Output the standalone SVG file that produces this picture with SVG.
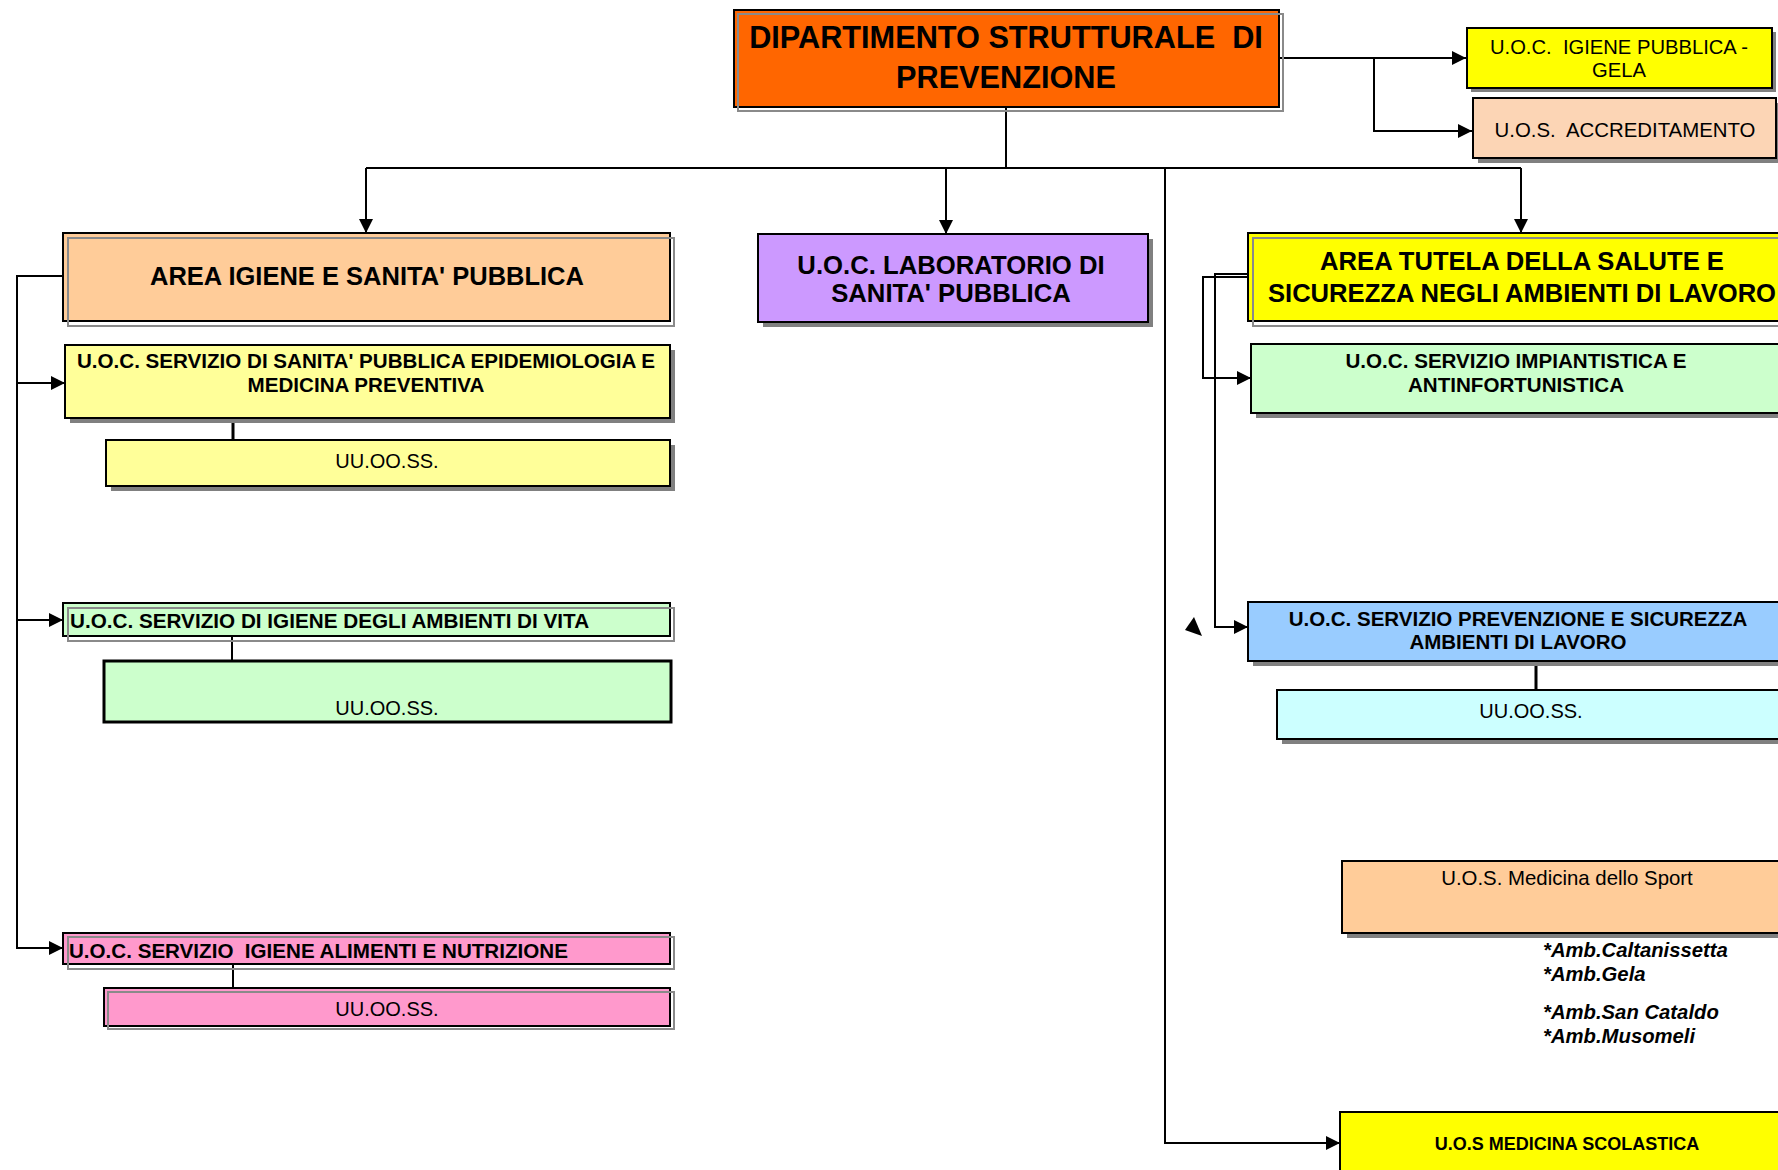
<svg xmlns="http://www.w3.org/2000/svg" width="1778" height="1170" viewBox="0 0 1778 1170">
<defs>
<marker id="ah" viewBox="0 0 10 10" refX="10" refY="5" markerWidth="14" markerHeight="14" markerUnits="userSpaceOnUse" orient="auto"><path d="M0,0 L10,5 L0,10 z" fill="#000"/></marker>
</defs>
<style>
.b{stroke:#000;stroke-width:2}
.sh{fill:#808080}
.ol{fill:none;stroke:#8a8a8a;stroke-width:2}
text{font-family:"Liberation Sans",Arial,sans-serif;fill:#000}
.bd{font-weight:bold}
.c{text-anchor:middle}
.it{font-weight:bold;font-style:italic;font-size:20.3px}
.con{fill:none;stroke:#000;stroke-width:2}
.stub{fill:none;stroke:#000;stroke-width:3}
.arr{marker-end:url(#ah)}
</style>
<rect width="1778" height="1170" fill="#fff"/>

<g id="connectors">
<path class="con" d="M1006,108 V168 M366,168 H1521"/>
<path class="con arr" d="M366,168 V233"/>
<path class="con arr" d="M946,168 V234"/>
<path class="con arr" d="M1521,168 V233"/>
<path class="con arr" d="M1165,168 V1143 H1340"/>
<path class="con arr" d="M1279,58 H1466"/>
<path class="con arr" d="M1374,58 V131 H1472"/>
<path class="con arr" d="M63,276 H17 V948 H63"/>
<path class="con arr" d="M17,383 H65"/>
<path class="con arr" d="M17,620 H63"/>
<path class="stub" d="M233,418 V440 M1536,661 V690"/>
<path class="con" d="M232,636 V661 M233,964 V988"/>
<path class="con arr" d="M1248,274 H1215 V627 H1248"/>
<path class="con arr" d="M1248,277 H1203 V378 H1251"/>
<polygon points="1194,617 1202,636 1185,630" fill="#000"/>
</g>

<g id="dipartimento">
<rect x="734" y="10" width="545" height="97" fill="#FF6600" class="b"/>
<rect x="738" y="14" width="545" height="97" class="ol"/>
<text x="1006" y="48" class="bd c" font-size="30.7" xml:space="preserve">DIPARTIMENTO STRUTTURALE  DI</text>
<text x="1006" y="88" class="bd c" font-size="30.7">PREVENZIONE</text>
</g>

<g id="igiene-gela">
<rect x="1471" y="32" width="305" height="60" class="sh"/>
<rect x="1467" y="28" width="305" height="60" fill="#FFFF00" class="b"/>
<text x="1619" y="54" class="c" font-size="20.2" xml:space="preserve">U.O.C.  IGIENE PUBBLICA -</text>
<text x="1619" y="77" class="c" font-size="20.2">GELA</text>
</g>

<g id="accreditamento">
<rect x="1478" y="103" width="304" height="60" class="sh"/>
<rect x="1473" y="98" width="303" height="60" fill="#FCD5B5" class="b"/>
<text x="1625" y="137" class="c" font-size="20.4" xml:space="preserve">U.O.S.  ACCREDITAMENTO</text>
</g>

<g id="area-igiene">
<rect x="63" y="233" width="607" height="88" fill="#FFCC99" class="b"/>
<rect x="68" y="238" width="606" height="88" class="ol"/>
<text x="367" y="285" class="bd c" font-size="25.5">AREA IGIENE E SANITA' PUBBLICA</text>
</g>

<g id="laboratorio">
<rect x="763" y="239" width="390" height="88" class="sh"/>
<rect x="758" y="234" width="390" height="88" fill="#CC99FF" class="b"/>
<text x="951" y="274" class="bd c" font-size="25.7">U.O.C. LABORATORIO DI</text>
<text x="951" y="302" class="bd c" font-size="25.7">SANITA' PUBBLICA</text>
</g>

<g id="area-tutela">
<rect x="1248" y="233" width="560" height="88" fill="#FFFF00" class="b"/>
<rect x="1253" y="238" width="560" height="88" class="ol"/>
<text x="1522" y="270" class="bd c" font-size="25.6">AREA TUTELA DELLA SALUTE E</text>
<text x="1522" y="302" class="bd c" font-size="25.6">SICUREZZA NEGLI AMBIENTI DI LAVORO</text>
</g>

<g id="sanita-pubblica">
<rect x="70" y="350" width="605" height="73" class="sh"/>
<rect x="65" y="345" width="605" height="73" fill="#FFFF99" class="b"/>
<text x="366" y="368" class="bd c" font-size="20.6">U.O.C. SERVIZIO DI SANITA' PUBBLICA EPIDEMIOLOGIA E</text>
<text x="366" y="392" class="bd c" font-size="20.6">MEDICINA PREVENTIVA</text>
</g>

<g id="uuooss-sanita">
<rect x="111" y="445" width="564" height="46" class="sh"/>
<rect x="106" y="440" width="564" height="46" fill="#FFFF99" class="b"/>
<text x="387" y="468" class="c" font-size="20">UU.OO.SS.</text>
</g>

<g id="ambienti-vita">
<rect x="63" y="603" width="607" height="33" fill="#CCFFCC" class="b"/>
<rect x="68" y="608" width="606" height="33" class="ol"/>
<text x="70" y="628" class="bd" font-size="20.7">U.O.C. SERVIZIO DI IGIENE DEGLI AMBIENTI DI VITA</text>
</g>

<g id="uuooss-ambienti">
<rect x="104" y="661" width="567" height="61" fill="#CCFFCC" stroke="#000" stroke-width="3"/>
<text x="387" y="715" class="c" font-size="20">UU.OO.SS.</text>
</g>

<g id="alimenti">
<rect x="63" y="933" width="607" height="31" fill="#FF99CC" class="b"/>
<rect x="68" y="937" width="606" height="32" class="ol"/>
<text x="69" y="958" class="bd" font-size="20.6" xml:space="preserve">U.O.C. SERVIZIO  IGIENE ALIMENTI E NUTRIZIONE</text>
</g>

<g id="uuooss-alimenti">
<rect x="104" y="988" width="566" height="38" fill="#FF99CC" class="b"/>
<rect x="108" y="992" width="566" height="37" class="ol"/>
<text x="387" y="1016" class="c" font-size="20">UU.OO.SS.</text>
</g>

<g id="impiantistica">
<rect x="1256" y="349" width="540" height="69" class="sh"/>
<rect x="1251" y="344" width="540" height="69" fill="#CCFFCC" class="b"/>
<text x="1516" y="368" class="bd c" font-size="20.6">U.O.C. SERVIZIO IMPIANTISTICA E</text>
<text x="1516" y="392" class="bd c" font-size="20.6">ANTINFORTUNISTICA</text>
</g>

<g id="prevenzione-sicurezza">
<rect x="1253" y="607" width="545" height="59" class="sh"/>
<rect x="1248" y="602" width="545" height="59" fill="#99CCFF" class="b"/>
<text x="1518" y="626" class="bd c" font-size="20.5">U.O.C. SERVIZIO PREVENZIONE E SICUREZZA</text>
<text x="1518" y="649" class="bd c" font-size="20.5">AMBIENTI DI LAVORO</text>
</g>

<g id="uuooss-prevenzione">
<rect x="1282" y="695" width="520" height="49" class="sh"/>
<rect x="1277" y="690" width="520" height="49" fill="#CCFFFF" class="b"/>
<text x="1531" y="718" class="c" font-size="20">UU.OO.SS.</text>
</g>

<g id="medicina-sport">
<rect x="1347" y="866" width="450" height="72" class="sh"/>
<rect x="1342" y="861" width="450" height="72" fill="#FFCC99" class="b"/>
<text x="1567" y="885" class="c" font-size="20.4">U.O.S. Medicina dello Sport</text>
<text x="1543" y="957" class="it">*Amb.Caltanissetta</text>
<text x="1543" y="981" class="it">*Amb.Gela</text>
<text x="1543" y="1019" class="it">*Amb.San Cataldo</text>
<text x="1543" y="1043" class="it">*Amb.Musomeli</text>
</g>

<g id="medicina-scolastica">
<rect x="1340" y="1112" width="460" height="70" fill="#FFFF00" class="b"/>
<text x="1567" y="1150" class="bd c" font-size="18">U.O.S MEDICINA SCOLASTICA</text>
</g>
</svg>
